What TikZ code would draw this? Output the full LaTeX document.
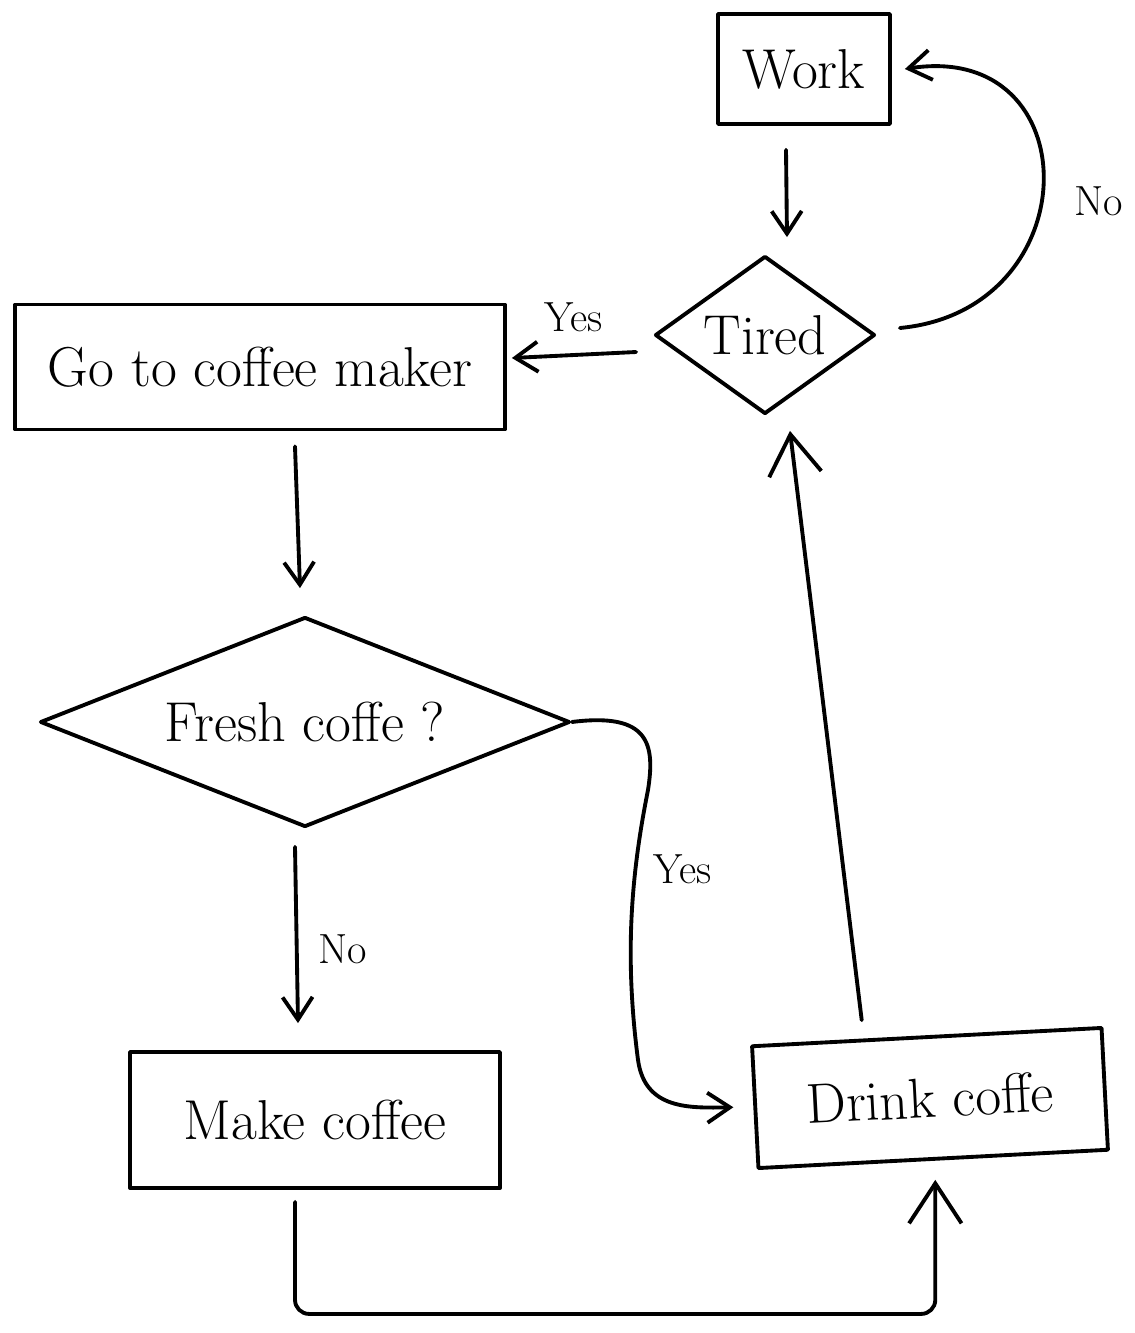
\documentclass[tikz,border=0pt]{standalone}
\usepackage{tikz}
\usetikzlibrary{shapes.geometric,arrows.meta}

\begin{document}
\begin{tikzpicture}[x=0.02cm,y=-0.02cm,line width=2.2pt,line cap=round,line join=round,
    font=\fontsize{32}{38}\selectfont,
    box/.style={draw,rectangle,inner sep=0pt},
    decision/.style={draw,diamond,inner sep=0pt},
    arr/.style={-{Straight Barb[length=0.45cm,width=0.6cm]}},
    bigarr/.style={-{Straight Barb[length=0.8cm,width=1.05cm]}},
    lbl/.style={font=\fontsize{24}{28}\selectfont}]
    \useasboundingbox (0,0) rectangle (1135,1333);
    \node[box, minimum width=3.44cm, minimum height=2.2cm] (work) at (804,69) {Work};
    \node[decision, aspect=1.4, minimum width=4.4cm, minimum height=3.16cm] (tired) at (765,335) {Tired};
    \node[box, minimum width=9.8cm, minimum height=2.5cm] (go) at (260,367) {Go to coffee maker};
    \node[decision, aspect=2.5, minimum width=10.6cm, minimum height=4.2cm] (fresh) at (305,722) {Fresh coffe ?};
    \node[box, minimum width=7.4cm, minimum height=2.72cm] (make) at (315,1120) {Make coffee};
    \node[box, rotate=3, minimum width=7cm, minimum height=2.44cm] (drink) at (930,1098) {Drink coffe};
    \draw[arr] ([xshift=-0.36cm,yshift=-0.48cm]work.south) -- ([xshift=0.44cm,yshift=0.34cm]tired.north);
    \draw[arr] ([xshift=0.46cm,yshift=0.14cm]tired.east) .. controls (1090,310) and (1090,40) .. ([xshift=0.26cm]work.east) node[lbl, pos=.45, right=0.5cm] (no1) {No};
    \draw[arr] ([xshift=-0.34cm,yshift=-0.34cm]tired.west) -- ([xshift=0.1cm,yshift=0.18cm]go.east) node[lbl, pos=.5, above=0.3cm] (yes1) {Yes};
    \draw[arr] ([xshift=0.7cm,yshift=-0.3cm]go.south) -- ([xshift=-0.1cm,yshift=0.54cm]fresh.north);
    \draw[arr] ([xshift=-0.2cm,yshift=-0.36cm]fresh.south) -- ([xshift=-0.34cm,yshift=0.54cm]make.north) node[lbl, pos=.58, right=0.28cm] (no2) {No};
    \draw[arr] (fresh.east) .. controls (650,712) and (655,745) .. (648,790)
        .. controls (630,880) and (625,960) .. (638,1060) node[lbl, pos=.3, right=0.2cm] (yes2) {Yes}
        .. controls (645,1110) and (690,1108) .. ([xshift=-0.4cm]drink.west);
    \draw[bigarr, rounded corners=8pt] ([xshift=-0.4cm,yshift=-0.24cm]make.south) -- ++(0,112) -| ([xshift=0.04cm,yshift=-0.38cm]drink.south);
    \draw[bigarr] ([xshift=-1.3cm,yshift=0.3cm]drink.north) -- ([xshift=0.5cm,yshift=-0.3cm]tired.south);
\end{tikzpicture}
\end{document}
